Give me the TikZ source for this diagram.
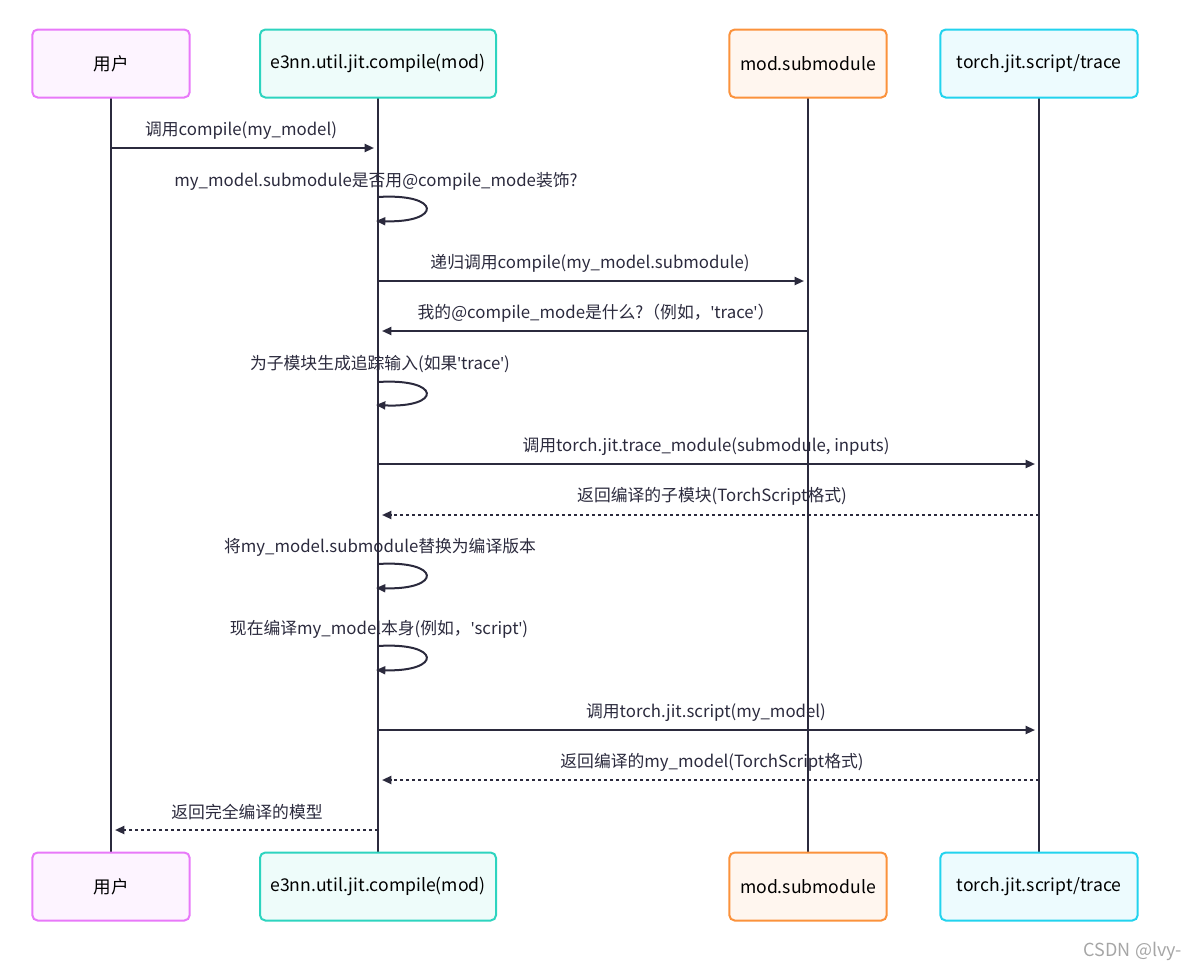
\documentclass[tikz,border=0pt]{standalone}
\usepackage{fontspec}
\setmainfont{Noto Sans CJK SC}
\newfontfamily\lat{Noto Sans}
\newcommand{\q}{{\lat\char39}}
\usetikzlibrary{arrows.meta}
\definecolor{ink}{HTML}{2B2A3D}
\tikzset{every picture/.style={line width=0.75pt},
  actor/.style={draw=#1, fill=#1!8, rounded corners=4pt, line width=1.5pt, minimum height=51pt, inner sep=0pt, font=\fontsize{13.2}{15}\selectfont},
  msg/.style={draw=ink, line width=1.5pt, -{Triangle[length=7pt,width=6pt]}},
  ret/.style={msg, dash pattern=on 2.5pt off 2pt},
  lbl/.style={font=\fontsize{12.6}{14}\selectfont, text=ink, inner sep=0.75pt},
  life/.style={draw=ink, line width=1.5pt}}
\definecolor{cu}{HTML}{E879F9}
\definecolor{ce}{HTML}{2DD4BF}
\definecolor{cm}{HTML}{FB923C}
\definecolor{ct}{HTML}{22D3EE}
\begin{document}
\begin{tikzpicture}[x=0.75pt,y=0.75pt,yscale=-1,xscale=1]
	\useasboundingbox (0,0) rectangle (1188,971);
	% lifelines
	\draw[life] (111,98) -- (111,852);
	\draw[life] (378,98) -- (378,852);
	\draw[life] (808,98) -- (808,852);
	\draw[life] (1039,98) -- (1039,852);
	% Actors top
	\node[actor=cu, minimum width=118pt] (uT) at (111,63.5) {用户};
	\node[actor=ce, minimum width=177pt] (eT) at (378,63.5) {e3nn.util.jit.compile(mod)};
	\node[actor=cm, minimum width=118pt] (mT) at (808,63.5) {mod.submodule};
	\node[actor=ct, minimum width=148pt] (tT) at (1039,63.5) {torch.jit.script/trace};
	% Actors bottom
	\node[actor=cu, minimum width=118pt] (uB) at (111,886.5) {用户};
	\node[actor=ce, minimum width=177pt] (eB) at (378,886.5) {e3nn.util.jit.compile(mod)};
	\node[actor=cm, minimum width=118pt] (mB) at (808,886.5) {mod.submodule};
	\node[actor=ct, minimum width=148pt] (tB) at (1039,886.5) {torch.jit.script/trace};
	% Messages
	\draw[msg] (uT |- 0,148) -- (374,148);
	\node[lbl] (l1) at (241,130.5) {调用compile(my\_model)};
	\node[lbl] (l2) at (376,181.5) {my\_model.submodule是否用@compile\_mode装饰?};
	\draw[msg] (eT |- 0,197) .. controls (442,193) and (442,223) .. (376,221);
	\draw[msg] (eT |- 0,281) -- (804,281);
	\node[lbl] (l3) at (590,263.5) {递归调用compile(my\_model.submodule)};
	\draw[msg] (mT |- 0,331) -- (382,331);
	\node[lbl] (l4) at (596,313.5) {我的@compile\_mode是什么?（例如，\q trace\q ）};
	\node[lbl] (l5) at (380,364.5) {为子模块生成追踪输入(如果\q trace\q )};
	\draw[msg] (eT |- 0,382) .. controls (442,378) and (442,408) .. (376,405);
	\draw[msg] (eT |- 0,464) -- (1035,464);
	\node[lbl] (l6) at (706,446.5) {调用torch.jit.trace\_module(submodule, inputs)};
	\draw[ret] (tT |- 0,515) -- (382,515);
	\node[lbl] (l7) at (712,496.5) {返回编译的子模块(TorchScript格式)};
	\node[lbl] (l8) at (380,547.5) {将my\_model.submodule替换为编译版本};
	\draw[msg] (eT |- 0,564) .. controls (442,560) and (442,590) .. (376,588);
	\node[lbl] (l9) at (379,629.5) {现在编译my\_model本身(例如，\q script\q )};
	\draw[msg] (eT |- 0,646) .. controls (442,642) and (442,672) .. (376,670);
	\draw[msg] (eT |- 0,730) -- (1035,730);
	\node[lbl] (l10) at (706,712.5) {调用torch.jit.script(my\_model)};
	\draw[ret] (tT |- 0,780) -- (382,780);
	\node[lbl] (l11) at (712,762.5) {返回编译的my\_model(TorchScript格式)};
	\draw[ret] (eT |- 0,830) -- (115,830);
	\node[lbl] (l12) at (247,812.5) {返回完全编译的模型};
	\node[font=\fontsize{13.5}{15}\selectfont, text=black!35] (wm) at (1133,951) {CSDN @lvy-};
\end{tikzpicture}
\end{document}
